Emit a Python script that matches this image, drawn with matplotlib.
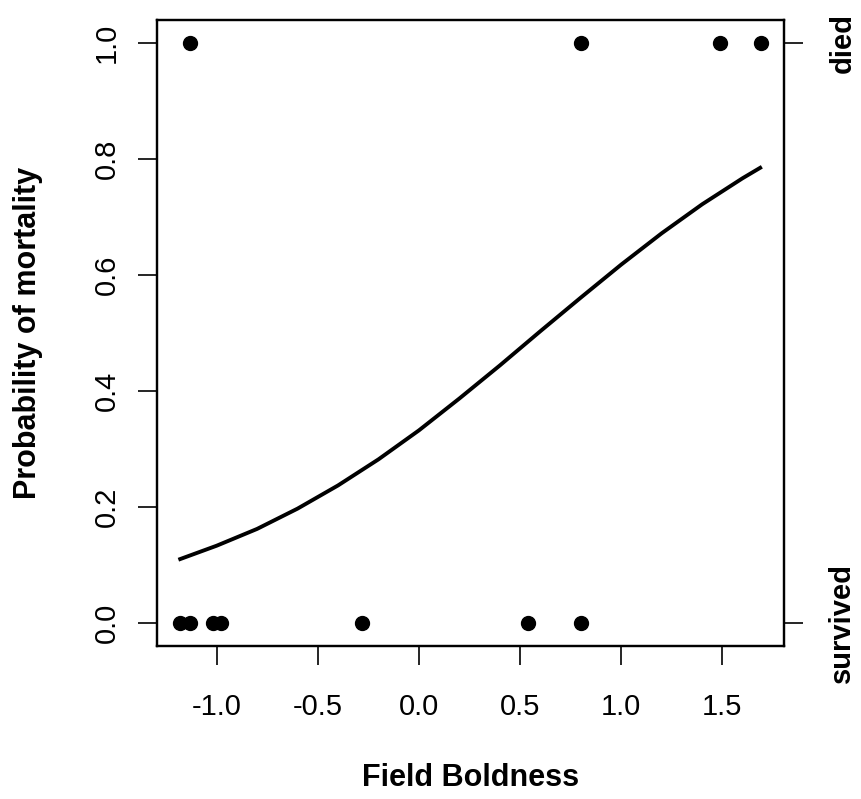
import matplotlib
matplotlib.use("Agg")
import matplotlib.pyplot as plt
import numpy as np

plt.rcParams['font.family'] = ['Liberation Sans', 'DejaVu Sans']

# observed fish: field boldness and outcome (0 = survived, 1 = died)
bold_obs = [-1.18, -1.13, -1.02, -0.98, -0.28, 0.54, 0.80,
            -1.13, 0.80, 1.49, 1.69]
died_obs = [0, 0, 0, 0, 0, 0, 0,
            1, 1, 1, 1]

# fitted probability curve
curve_x = [-1.18, -1.0, -0.8, -0.6, -0.4, -0.2, 0.0, 0.2, 0.4, 0.6,
           0.8, 1.0, 1.2, 1.4, 1.6, 1.687]
curve_p = [0.110, 0.133, 0.162, 0.197, 0.237, 0.282, 0.332, 0.387, 0.444, 0.503,
           0.561, 0.618, 0.672, 0.722, 0.767, 0.785]

xticks = [-1.0, -0.5, 0.0, 0.5, 1.0, 1.5]
yticks = [0.0, 0.2, 0.4, 0.6, 0.8, 1.0]
right_labels = ["survived", "died"]

fig = plt.figure(figsize=(8.61, 7.99), dpi=100)
ax = fig.add_axes([157 / 861, 1 - 646 / 799, 627 / 861, 626 / 799])

ax.plot(bold_obs, died_obs, 'o', color='black', markersize=10)
ax.plot(curve_x, curve_p, '-', color='black', linewidth=2.8)

# R style 4% padding around data range
xmin, xmax = min(bold_obs), max(bold_obs)
pad = 0.04 * (xmax - xmin)
ax.set_xlim(xmin - pad, xmax + pad)
ax.set_ylim(-0.04, 1.04)

for s in ax.spines.values():
    s.set_linewidth(1.6)

ax.set_xticks(xticks)
ax.set_xticklabels([f"{t:.1f}" for t in xticks])
ax.set_yticks(yticks)
ax.set_yticklabels([f"{t:.1f}" for t in yticks], rotation=90, va='center')
ax.tick_params(axis='both', length=14, width=1.2, labelsize=21, direction='out')
ax.tick_params(axis='x', pad=20)
ax.tick_params(axis='y', pad=12)

ax2 = ax.twinx()
ax2.set_ylim(ax.get_ylim())
ax2.set_yticks([0, 1])
ax2.set_yticklabels(right_labels, rotation=90, va='center', fontweight='bold')
ax2.tick_params(axis='y', length=14, width=1.2, labelsize=21, pad=18)
for s in ax2.spines.values():
    s.set_linewidth(1.6)

ax.set_xlabel("Field Boldness", fontsize=22, fontweight='bold', labelpad=30)
ax.set_ylabel("Probability of mortality", fontsize=22, fontweight='bold', labelpad=36)

fig.savefig("out.png", dpi=100)
